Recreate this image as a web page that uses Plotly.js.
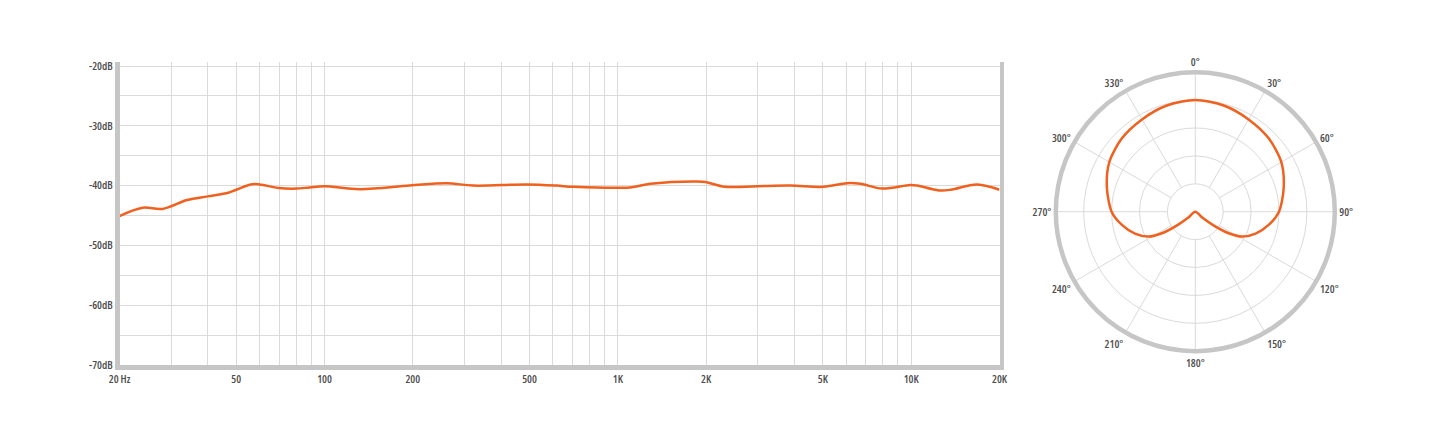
<!DOCTYPE html>
<html>
<head>
<meta charset="utf-8">
<script src="https://cdn.plot.ly/plotly-3.0.1.min.js"></script>
<style>
html,body{margin:0;padding:0;background:#fff;}
#chart{width:1440px;height:434px;}
#chart text{font-stretch:75%;}
</style>
</head>
<body>
<div id="chart"></div>
<script>
// Frequency response (Hz, dB)
var freqHz = [20, 24, 28, 34, 40, 47, 50, 56, 60, 70, 80, 89, 100, 132, 195, 261, 321, 488, 618, 705, 1100, 1290, 1860, 1990, 2320, 2980, 3870, 5030, 6040, 6710, 7960, 9940, 10480, 12420, 13620, 16780, 20000];
var levelDb = [-45.1, -43.7, -43.9, -42.4, -41.8, -41.2, -40.7, -39.8, -39.8, -40.4, -40.5, -40.3, -40.1, -40.6, -40.0, -39.6, -40.0, -39.8, -40.0, -40.2, -40.3, -39.7, -39.3, -39.4, -40.2, -40.1, -40.0, -40.2, -39.6, -39.7, -40.5, -39.9, -40.0, -40.8, -40.7, -39.8, -40.7];

// Axis ticks
var xTickVals = [20, 30, 40, 50, 60, 70, 80, 90, 100, 200, 300, 400, 500, 600, 700, 800, 900, 1000, 2000, 3000, 4000, 5000, 6000, 7000, 8000, 9000, 10000, 20000];
var xTickText = ["20 Hz", "", "", "50", "", "", "", "", "100", "200", "", "", "500", "", "", "", "", "1K", "2K", "", "", "5K", "", "", "", "", "10K", "20K"];
var yTickVals = [-70, -65, -60, -55, -50, -45, -40, -35, -30, -25, -20];
var yTickText = ["-70dB", "", "-60dB", "", "-50dB", "", "-40dB", "", "-30dB", "", "-20dB"];

// Polar pattern (degrees, dB relative to on-axis)
var patternAngle = [180, 230, 233, 237, 242, 250, 260, 270, 285, 300, 315, 330, 345, 360, 15, 30, 45, 60, 75, 90, 100, 110, 118, 123, 127, 130, 180];
var patternDb = [-20, -18.3, -16.0, -13.0, -10.5, -8.5, -6.6, -5.0, -3.6, -2.2, -1.4, -0.9, -0.3, 0, -0.3, -0.9, -1.4, -2.2, -3.6, -5.0, -6.6, -8.5, -10.5, -13.0, -16.0, -18.3, -20];
var angleTicks = [0, 30, 60, 90, 120, 150, 180, 210, 240, 270, 300, 330];
var angleLabels = ["0°", "30°", "60°", "90°", "120°", "150°", "180°", "210°", "240°", "270°", "300°", "330°"];
var ringVals = [-15, -10, -5, 0];

var W = 1440, H = 434;
var lblFont = {family: "'Open Sans', 'DejaVu Sans Condensed', sans-serif", size: 11, color: '#4d4d4d', weight: 600};
var frameColor = '#c6c6c6';
var gridColor = '#dadada';
var orange = '#f0601e';

var traces = [
  {
    type: 'scatter', mode: 'lines', x: freqHz, y: levelDb,
    line: {color: orange, width: 2.5, shape: 'spline', smoothing: 1},
    hoverinfo: 'skip', showlegend: false
  },
  {
    // empty trace so the spoke-grid polar subplot is drawn
    type: 'scatterpolar', mode: 'lines', subplot: 'polar',
    theta: [], r: [], hoverinfo: 'skip', showlegend: false
  },
  {
    type: 'scatterpolar', mode: 'lines', subplot: 'polar2',
    theta: patternAngle, r: patternDb,
    line: {color: orange, width: 2.5, shape: 'spline', smoothing: 0.8},
    hoverinfo: 'skip', showlegend: false
  }
];

var pxL = 1055.8, pxR = 1334.8, pyT = 72.2, pyB = 351.2;
var polarDomain = {x: [pxL / W, pxR / W], y: [1 - pyB / H, 1 - pyT / H]};

var layout = {
  width: W, height: H,
  margin: {l: 0, r: 0, t: 0, b: 0},
  paper_bgcolor: '#ffffff', plot_bgcolor: '#ffffff',
  showlegend: false,
  xaxis: {
    type: 'log', domain: [119.5 / W, 999.5 / W],
    range: [Math.log10(20), Math.log10(20000)],
    tickmode: 'array', tickvals: xTickVals, ticktext: xTickText,
    showgrid: true, gridcolor: gridColor, gridwidth: 1,
    showline: true, linecolor: frameColor, linewidth: 4.5, mirror: false,
    ticks: '', tickfont: lblFont, zeroline: false, fixedrange: true
  },
  yaxis: {
    domain: [1 - 365 / H, 1 - 62 / H],
    range: [-70, -19.33],
    tickmode: 'array', tickvals: yTickVals, ticktext: yTickText,
    showgrid: true, gridcolor: gridColor, gridwidth: 1,
    showline: true, linecolor: frameColor, linewidth: 4.5, mirror: true,
    ticks: '', tickfont: lblFont, zeroline: false, fixedrange: true
  },
  polar: {
    domain: polarDomain, hole: 0.2, bgcolor: 'rgba(0,0,0,0)',
    radialaxis: {range: [-15, 5], showgrid: false, showline: false, showticklabels: false, ticks: ''},
    angularaxis: {
      rotation: 90, direction: 'clockwise',
      tickmode: 'array', tickvals: angleTicks,
      showgrid: true, gridcolor: gridColor, gridwidth: 1,
      showline: false, showticklabels: false, ticks: ''
    }
  },
  polar2: {
    domain: polarDomain, bgcolor: 'rgba(0,0,0,0)',
    radialaxis: {range: [-20, 5], tickmode: 'array', tickvals: ringVals, showgrid: true, gridcolor: gridColor, gridwidth: 1, showline: false, showticklabels: false, ticks: ''},
    angularaxis: {
      rotation: 90, direction: 'clockwise',
      tickmode: 'array', tickvals: angleTicks, ticktext: angleLabels,
      showgrid: false, showline: true, linecolor: frameColor, linewidth: 4.5,
      ticks: '', tickfont: lblFont
    }
  }
};

Plotly.newPlot('chart', traces, layout, {displayModeBar: false, staticPlot: true});
</script>
</body>
</html>
